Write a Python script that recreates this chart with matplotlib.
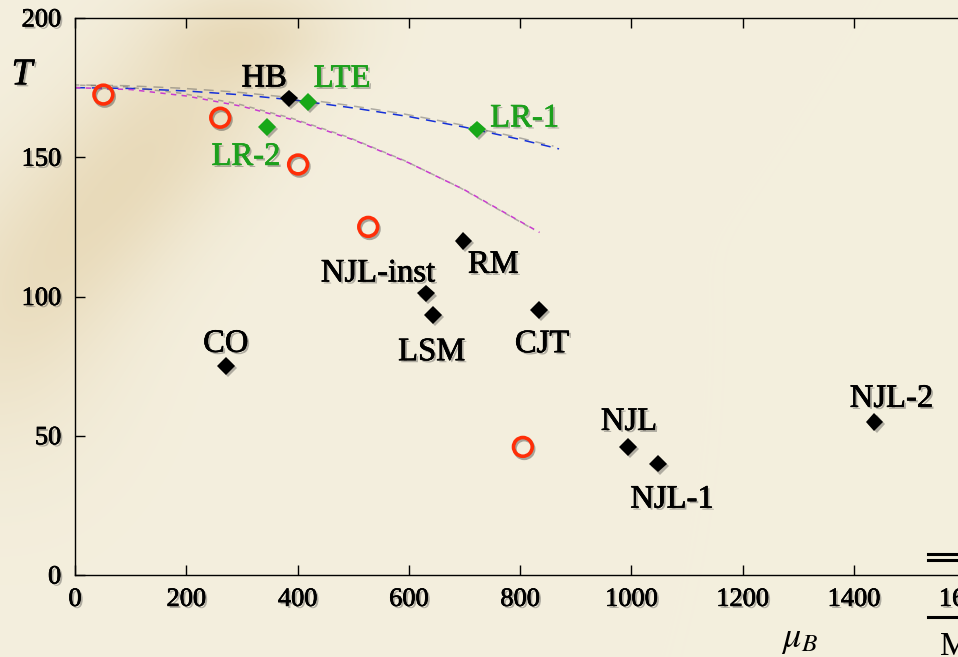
import numpy as np
import matplotlib
matplotlib.use("Agg")
import matplotlib.pyplot as plt
import matplotlib.patheffects as pe
from matplotlib.lines import Line2D

plt.rcParams['font.family'] = ['Liberation Serif', 'DejaVu Serif']
plt.rcParams['mathtext.fontset'] = 'stix'

# 数据: 红色空心圆
circle_mu = [51, 261, 401, 527, 805]
circle_T = [172.5, 164.2, 147.4, 125, 46]

# 黑色菱形 (模型)
black_names = ['HB', 'NJL-inst', 'LSM', 'RM', 'CJT', 'CO', 'NJL', 'NJL-1', 'NJL-2']
black_mu = [385, 631, 643, 698, 834, 271, 994, 1048, 1437]
black_T = [171.1, 101.1, 93.3, 120, 95.1, 75.1, 46, 40, 55]

# 绿色菱形 (格点)
green_names = ['LTE', 'LR-1', 'LR-2']
green_mu = [419, 722, 345]
green_T = [169.9, 160, 160.9]

# 两条虚线
blue_mu = [0, 100, 200, 300, 400, 500, 600, 700, 800, 870]
blue_T = [175, 174.7, 173.8, 172.4, 170.4, 167.7, 164.6, 160.8, 156.4, 153]
pink_mu = [0, 100, 200, 300, 400, 500, 600, 700, 835]
pink_T = [175, 174.3, 172, 168.3, 163, 156.3, 148, 138.3, 123]

x_ticks = [0, 200, 400, 600, 800, 1000, 1200, 1400, 1600]
y_ticks = [0, 50, 100, 150, 200]

# 标签偏移 (像素)
label_offset = {
    'HB': (-25, 12), 'LTE': (34, 15), 'LR-1': (48, 3), 'LR-2': (-21, -38),
    'NJL-inst': (-48, 12), 'RM': (30, -32), 'LSM': (-1, -45), 'CJT': (3, -42),
    'CO': (0, 14), 'NJL': (1, 17), 'NJL-1': (14, -44), 'NJL-2': (17, 15),
}

W, H = 958, 657
fig = plt.figure(figsize=(W / 100, H / 100), dpi=100)

# 羊皮纸背景, 左上方一条斜的污渍
bg = fig.add_axes([0, 0, 1, 1], zorder=-10)
yy, xx = np.mgrid[0:H, 0:W]
base = np.array([244, 239, 222]) / 255.0
stain = np.array([218, 192, 140]) / 255.0
u = (xx - 140) * -0.644 + (yy - 160) * 0.764
v = (xx - 140) * 0.764 + (yy - 160) * 0.644
w = 0.42 * np.exp(-(u / 230.0) ** 2 - (v / 85.0) ** 2)
w += 0.2 * np.exp(-((xx - 250) / 90.0) ** 2 - ((yy - 40) / 40.0) ** 2)
w += 0.15 * np.exp(-((xx - 10) / 120.0) ** 2 - ((yy - 330) / 160.0) ** 2)
w = np.clip(w, 0, 1)[..., None]
img = base * (1 - w) + stain * w
bg.imshow(img, aspect='auto', extent=[0, 1, 0, 1])
bg.axis('off')

ax = fig.add_axes([75 / W, 82 / H, 918 / W, 557 / H])
ax.patch.set_alpha(0)
ax.set_xlim(0, 1650)
ax.set_ylim(0, 200)


def text_fx(c):
    return [pe.withSimplePatchShadow(offset=(1.5, -1.5), shadow_rgbFace='0.2', alpha=0.35),
            pe.Stroke(linewidth=0.45, foreground=c), pe.Normal()]


shadow_mk = [pe.withSimplePatchShadow(offset=(1.5, -1.5), shadow_rgbFace='0.2', alpha=0.35)]
shadow_ln = [pe.SimpleLineShadow(offset=(-4, 2), shadow_color='0.35', alpha=0.45), pe.Normal()]

ax.plot(blue_mu, blue_T, color='#1530d8', lw=1.1, dashes=(6.5, 4.5), path_effects=shadow_ln)
ax.plot(pink_mu, pink_T, color='#c83ccf', lw=1.1, dashes=(3.5, 3.5), path_effects=shadow_ln)

ax.plot(circle_mu, circle_T, 'o', ms=13.5, mfc='none', mec='#ff2e08', mew=2.6,
        path_effects=[pe.SimpleLineShadow(offset=(1, -1.5), shadow_color='0.2', alpha=0.4), pe.Normal()])
ax.plot(black_mu, black_T, 'D', ms=9, color='black', mew=0, path_effects=shadow_mk)
ax.plot(green_mu, green_T, 'D', ms=9, color='#18a818', mew=0, path_effects=shadow_mk)

for names, mus, Ts, col in [(black_names, black_mu, black_T, 'black'),
                            (green_names, green_mu, green_T, '#1ca01c')]:
    for n, m, t in zip(names, mus, Ts):
        ax.annotate(n, (m, t), xytext=label_offset[n], textcoords='offset pixels',
                    ha='center', va='baseline', fontsize=23.5, color=col,
                    path_effects=text_fx(col))

ax.set_xticks(x_ticks)
ax.set_yticks(y_ticks)
ax.tick_params(direction='in', top=True, right=True, length=7, width=1,
               labelsize=19, colors='black')
ax.tick_params(axis='y', pad=10)
ax.tick_params(axis='x', pad=10)
for lab in ax.get_xticklabels() + ax.get_yticklabels():
    lab.set_path_effects(text_fx('black'))
for s in ax.spines.values():
    s.set_linewidth(1)

fig.text(22 / W, 1 - 75 / H, 'T', fontsize=27, style='italic', ha='center', va='center',
         path_effects=text_fx('black'))
fig.text(800 / W, 1 - 640 / H, r'$\mu_B$', fontsize=26, ha='center', va='center')

# 右下角被裁掉的公式片段
for yp in [554, 560]:
    fig.add_artist(Line2D([928 / W, 1.0], [1 - yp / H] * 2, color='black', lw=2.2))
fig.add_artist(Line2D([928 / W, 1.0], [1 - 617 / H] * 2, color='black', lw=2.2))
fig.text(940 / W, 1 - 655 / H, 'M', fontsize=24, ha='left', va='baseline')

fig.savefig('out.png', dpi=100)
